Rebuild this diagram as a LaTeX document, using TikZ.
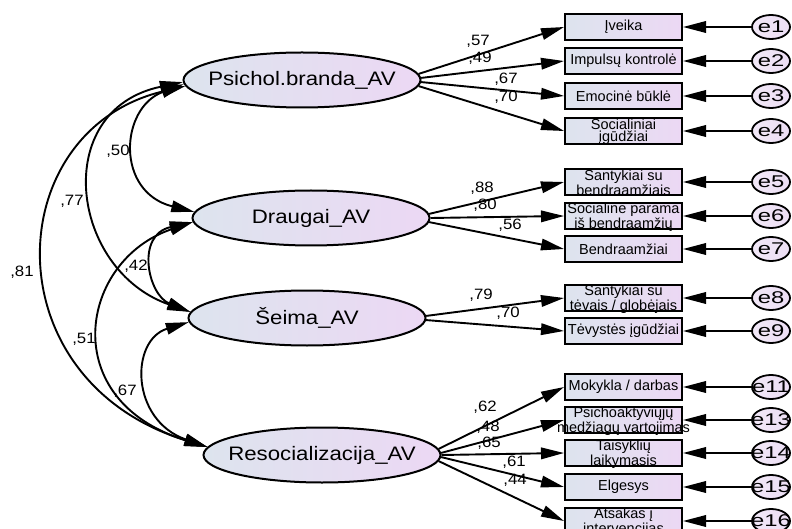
\documentclass[tikz,border=0pt]{standalone}
\usepackage{fontspec}
\setmainfont{Liberation Sans}
\usetikzlibrary{arrows.meta,shapes.geometric}
\definecolor{lblue}{RGB}{221,228,238}
\definecolor{lviol}{RGB}{236,216,244}
\definecolor{eviol}{RGB}{236,222,244}
\newcommand{\zb}[1]{\makebox[0pt]{#1}}
\tikzset{
  lat/.style={ellipse, draw, line width=2pt, minimum width=237pt, minimum height=55pt, inner sep=0pt,
    left color=lblue, right color=lviol, font=\fontsize{19.5}{20}\selectfont},
  obs/.style={rectangle, draw, line width=2pt, minimum width=117pt, minimum height=26pt, inner sep=0pt,
    left color=lblue, right color=lviol},
  btxt/.style={align=center, inner sep=0pt, font=\fontsize{14.5}{12.5}\selectfont},
  err/.style={ellipse, draw, line width=1.8pt, minimum width=38pt, minimum height=24pt, inner sep=0pt,
    left color=eviol!70!white, right color=eviol, font=\fontsize{17}{17}\selectfont},
  num/.style={inner sep=0pt, font=\fontsize{15}{15}\selectfont},
  load/.style={line width=1.9pt, -{Triangle[length=23pt,width=11.5pt]}},
  corr/.style={line width=1.9pt, {Triangle[length=23pt,width=11.5pt]}-{Triangle[length=23pt,width=11.5pt]}},
}
\begin{document}
\begin{tikzpicture}[x=1pt,y=-1pt]
\useasboundingbox (0,0) rectangle (792,529);
% latent variables
\node[lat] (psy) at (302,80) {\zb{\scalebox{1.14}[1]{Psichol.branda\_AV}}};
\node[lat] (dra) at (311,218) {\zb{\scalebox{1.14}[1]{Draugai\_AV}}};
\node[lat] (sei) at (307,318) {\zb{\scalebox{1.14}[1]{Šeima\_AV}}};
\node[lat] (res) at (322,455) {\zb{\scalebox{1.14}[1]{Resocializacija\_AV}}};
% observed boxes and error terms
\foreach \n/\y in {1/27,2/61,3/96,4/131,5/182,6/216,7/249,8/298,9/331,11/387,13/420,14/453,15/487,16/521}{
  \node[obs] (b\n) at (623.5,\y) {};
  \node[err] (e\n) at (771,\y) {\zb{\scalebox{1.4}[1]{e\n}}};
  \draw[load] (e\n) -- (b\n.east);
}
\node[btxt] (t1) at (b1) {Įveika};
\node[btxt] (t2) at (b2) {\zb{Impulsų kontrolė}};
\node[btxt] (t3) at (b3) {Emocinė būklė};
\node[btxt] (t4) at ([yshift=-1pt]b4.center) {Socialiniai\\įgūdžiai};
\node[btxt] (t5) at ([yshift=-1pt]b5.center) {Santykiai su\\bendraamžiais};
\node[btxt] (t6) at ([yshift=-1pt]b6.center) {\zb{Socialinė parama}\\\zb{iš bendraamžių}};
\node[btxt] (t7) at (b7) {Bendraamžiai};
\node[btxt] (t8) at ([yshift=-1pt]b8.center) {Santykiai su\\\zb{tėvais / globėjais}};
\node[btxt] (t9) at (b9) {\zb{Tėvystės įgūdžiai}};
\node[btxt] (t11) at (b11) {\zb{Mokykla / darbas}};
\node[btxt] (t13) at ([yshift=-1pt]b13.center) {Psichoaktyviųjų\\\zb{medžiagų vartojimas}};
\node[btxt] (t14) at ([yshift=-1pt]b14.center) {Taisyklių\\laikymasis};
\node[btxt] (t15) at (b15) {Elgesys};
\node[btxt] (t16) at ([yshift=-1pt]b16.center) {Atsakas į\\intervencijas};
% loadings
\draw[load] (psy.3) -- (b1.west);
\draw[load] (psy.1) -- (b2.west);
\draw[load] (psy.-1) -- (b3.west);
\draw[load] (psy.-3) -- (b4.west);
\draw[load] (dra.2) -- (b5.west);
\draw[load] (dra.0) -- (b6.west);
\draw[load] (dra.-2) -- (b7.west);
\draw[load] (sei.1.5) -- (b8.west);
\draw[load] (sei.-1.5) -- (b9.west);
\draw[load] (res.3) -- (b11.west);
\draw[load] (res.1.5) -- (b13.west);
\draw[load] (res.0) -- (b14.west);
\draw[load] (res.-1.5) -- (b15.west);
\draw[load] (res.-3) -- (b16.west);
% correlations
\draw[corr] (psy.182) .. controls (120,108) and (115,192) .. (dra.177.5);
\draw[corr] (psy.181) .. controls (50,110) and (70,270) .. (sei.177);
\draw[corr] (psy.183) .. controls (0,130) and (-10,380) .. (res.176.5);
\draw[corr] (dra.182.5) .. controls (135,235) and (148,295) .. (sei.177);
\draw[corr] (dra.182.5) .. controls (80,260) and (55,400) .. (res.176.5);
\draw[corr] (sei.182) .. controls (130,340) and (130,420) .. (res.176.5);
% loading labels
\foreach \x/\y/\t in {478/41/57,480/58/49,506/79/67,506/97/70,482/188/88,485/205/80,510/225/56,481/295/79,508/313/70,485/407/62,488/427/48,489/443/65,514/462/61,515/480/44}{
  \node[num] (n\x\y) at (\x,\y) {\scalebox{1.12}[1]{,\t}};
}
% correlation labels
\node[num] (c50) at (118,151) {\scalebox{1.12}[1]{,50}};
\node[num] (c77) at (72,201) {\scalebox{1.12}[1]{,77}};
\node[num] (c81) at (22,272) {\scalebox{1.12}[1]{,81}};
\node[num] (c42) at (136,266) {\scalebox{1.12}[1]{,42}};
\node[num] (c51) at (84,339) {\scalebox{1.12}[1]{,51}};
\node[num] (c67) at (125,391) {\scalebox{1.12}[1]{,67}};
\end{tikzpicture}
\end{document}
